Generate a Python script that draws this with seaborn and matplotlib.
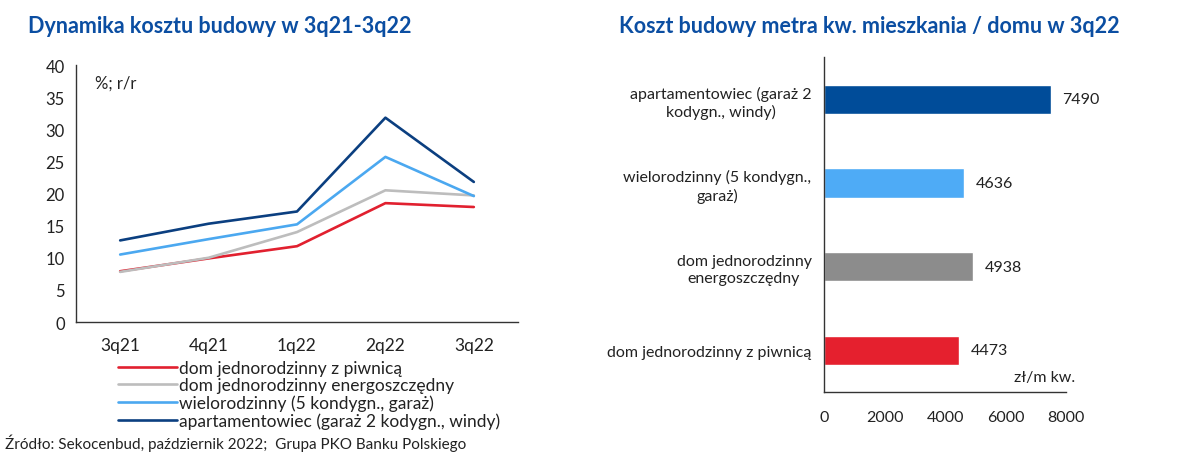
import matplotlib
matplotlib.use("Agg")
import matplotlib.pyplot as plt
import seaborn as sns
import pandas as pd
import numpy as np
from matplotlib.lines import Line2D

sns.set_theme(style="white")
plt.rcParams['font.family'] = ['Lato', 'DejaVu Sans']

# ---- data ----
quarters = ["3q21", "4q21", "1q22", "2q22", "3q22"]
series_names = [
    "dom jednorodzinny z piwnicą",
    "dom jednorodzinny energoszczędny",
    "wielorodzinny (5 kondygn., garaż)",
    "apartamentowiec (garaż 2 kodygn., windy)",
]
dom_piwnica = [7.9, 9.9, 11.8, 18.5, 17.9]
dom_energo = [7.8, 10.0, 14.0, 20.5, 19.7]
wielorodzinny = [10.5, 12.9, 15.2, 25.7, 19.6]
apartamentowiec = [12.7, 15.3, 17.2, 31.8, 21.8]
line_colors = ["#E1202F", "#BDBDBD", "#4BA8F0", "#0B3F80"]

bar_labels = [
    "apartamentowiec (garaż 2\nkodygn., windy)",
    "wielorodzinny (5 kondygn.,\ngaraż)",
    "dom jednorodzinny\nenergoszczędny",
    "dom jednorodzinny z piwnicą",
]
bar_values = [7490, 4636, 4938, 4473]
bar_colors = ["#004C99", "#4EABF6", "#8C8C8C", "#E5202E"]

title_color = "#0B4EA2"
text_color = "#222222"
fs = 12.5
fs_bar = 11.5

# ---- figure ----
fig = plt.figure(figsize=(12, 4.6), dpi=100)

# Left: line chart
ax1 = fig.add_axes([0.0633, 0.2978, 0.3684, 0.5587])
long = pd.DataFrame({
    "q": np.tile(quarters, 4),
    "val": dom_piwnica + dom_energo + wielorodzinny + apartamentowiec,
    "series": np.repeat(series_names, 5),
})
sns.lineplot(data=long, x="q", y="val", hue="series", hue_order=series_names,
             palette=line_colors, linewidth=1.9, ax=ax1, legend=False, sort=False)
ax1.set_xlim(-0.5, 4.5)
ax1.set_ylim(0, 40)
ax1.set_yticks(range(0, 41, 5))
ax1.set_xlabel("")
ax1.set_ylabel("")
for s in ["top", "right"]:
    ax1.spines[s].set_visible(False)
for s in ["left", "bottom"]:
    ax1.spines[s].set_color("#333333")
    ax1.spines[s].set_linewidth(1.0)
ax1.set_xticks(np.arange(5))
ax1.set_xticklabels(quarters)
ax1.set_xticks(np.arange(-0.5, 5, 1), minor=True)
ax1.tick_params(axis="x", which="major", length=0, pad=11, labelsize=fs, colors=text_color)
ax1.tick_params(axis="x", which="minor", length=5, direction="in", color="#333333", width=1)
ax1.tick_params(axis="y", which="major", length=5, direction="out", color="#333333",
                width=1, labelsize=12, colors=text_color, pad=3)
ax1.text(0.043, 0.93, "%; r/r", transform=ax1.transAxes, fontsize=12, color=text_color,
         va="center", ha="left")

handles = [Line2D([0], [0], color=c, lw=1.9) for c in line_colors]
fig.legend(handles, series_names, loc="upper left", bbox_to_anchor=(0.098, 0.216),
           frameon=False, fontsize=fs, handlelength=3.4, handletextpad=0.12,
           labelspacing=0.08, borderaxespad=0, borderpad=0,
           labelcolor=text_color)

fig.text(0.023, 0.965, "Dynamika kosztu budowy w 3q21-3q22", fontsize=15.5,
         fontweight="bold", color=title_color, va="top", ha="left")
fig.text(0.004, 0.018, "Źródło: Sekocenbud, październik 2022;  Grupa PKO Banku Polskiego",
         fontsize=11, color=text_color, va="bottom", ha="left")

# Right: bar chart
ax2 = fig.add_axes([0.6867, 0.1457, 0.2017, 0.7272])
bdf = pd.DataFrame({"label": bar_labels, "value": bar_values})
sns.barplot(data=bdf, y="label", x="value", hue="label", palette=bar_colors,
            order=bar_labels, hue_order=bar_labels, orient="h", width=0.35,
            legend=False, ax=ax2, saturation=1)
ax2.set_xlim(0, 8000)
ax2.set_ylim(3.5, -0.5)
ax2.set_xticks(range(0, 8001, 2000))
ax2.set_xlabel("")
ax2.set_ylabel("")
for s in ["top", "right"]:
    ax2.spines[s].set_visible(False)
for s in ["left", "bottom"]:
    ax2.spines[s].set_color("#333333")
    ax2.spines[s].set_linewidth(1.0)
ax2.tick_params(axis="x", which="major", length=5, direction="out", color="#333333",
                width=1, labelsize=fs_bar, colors=text_color, pad=8)
ax2.tick_params(axis="y", which="major", length=0, labelsize=fs_bar, colors=text_color, pad=9)
ax2.set_yticks(np.arange(-0.5, 3.6, 1), minor=True)
ax2.tick_params(axis="y", which="minor", length=5, direction="out", color="#333333", width=1)
for lbl in ax2.get_yticklabels():
    lbl.set_multialignment("center")
    lbl.set_linespacing(1.3)
for i, v in enumerate(bar_values):
    ax2.annotate(f"{v}", xy=(v, i), xytext=(8, 0), textcoords="offset points",
                 va="center", ha="left", fontsize=fs_bar, color=text_color)
ax2.text(8300, 3.4, "zł/m kw.", ha="right", va="bottom", fontsize=fs_bar, color=text_color)

fig.text(0.516, 0.965, "Koszt budowy metra kw. mieszkania / domu w 3q22", fontsize=15.5,
         fontweight="bold", color=title_color, va="top", ha="left")

fig.savefig("out.png", dpi=100)
